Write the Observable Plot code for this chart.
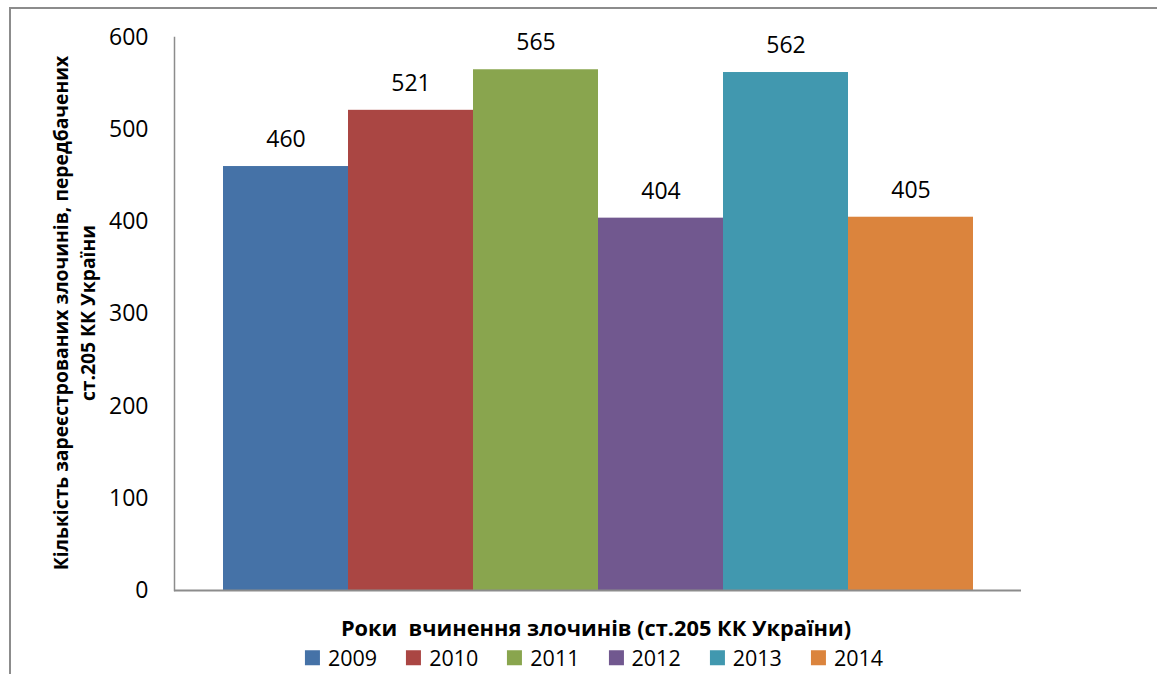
<!DOCTYPE html>
<html>
<head>
<meta charset="utf-8">
<script src="https://cdn.jsdelivr.net/npm/d3@7"></script>
<script src="https://cdn.jsdelivr.net/npm/@observablehq/plot@0.6"></script>
<style>
  html, body { margin: 0; padding: 0; background: #fff; overflow: hidden; }
  #page { position: relative; width: 1157px; height: 674px; overflow: hidden; font-family: "Open Sans", sans-serif; }
  #border { position: absolute; left: 9px; top: 7px; width: 1300px; height: 800px;
            border-left: 2px solid #8c8c8c; border-top: 2px solid #8c8c8c; }
  #chart { position: absolute; left: 0; top: 0; }
  #ylabel { position: absolute; left: 74px; top: 313px; transform: translate(-50%, -50%) rotate(-90deg);
            white-space: nowrap; text-align: center; font-weight: bold; font-size: 19.3px; line-height: 27px; color: #000; }
  #xlabel { position: absolute; left: 596px; top: 628px; transform: translate(-50%, -50%);
            white-space: nowrap; font-weight: bold; font-size: 21.8px; line-height: 1; color: #000; }
  #legend { position: absolute; left: 594px; top: 658px; transform: translate(-50%, -50%);
            display: flex; gap: 29px; white-space: nowrap; font-size: 21.5px; line-height: 1; color: #000; }
  #legend .item { display: flex; align-items: center; gap: 8px; }
  #legend .sw { width: 15px; height: 15px; display: inline-block; }
</style>
</head>
<body>
<div id="page">
  <div id="border"></div>
  <div id="chart"></div>
  <div id="ylabel">Кількість зареєстрованих злочинів, передбачених<br>ст.205 КК України</div>
  <div id="xlabel">Роки&nbsp; вчинення злочинів (ст.205 КК України)</div>
  <div id="legend"></div>
</div>
<script>
// Registered crimes under Art. 205 of the Criminal Code of Ukraine, by year
const years = ["2009", "2010", "2011", "2012", "2013", "2014"];
const counts = [460, 521, 565, 404, 562, 405];
const colors = ["#4572A7", "#AA4643", "#89A54E", "#71588F", "#4198AF", "#DB843D"];
const yTicks = [0, 100, 200, 300, 400, 500, 600];

const rows = years.map((year, i) => ({ year, count: counts[i] }));

const chart = Plot.plot({
  width: 1157,
  height: 620,
  marginTop: 37,
  marginBottom: 30,
  marginLeft: 174,
  marginRight: 136,
  style: { fontFamily: "'Open Sans', sans-serif", fontSize: "23px", color: "#000", background: "transparent" },
  x: { domain: years, paddingInner: 0, paddingOuter: 0.375, axis: null },
  y: { domain: [0, 600], ticks: yTicks, label: null },
  color: { domain: years, range: colors },
  marks: [
    Plot.barY(rows, { x: "year", y: "count", fill: "year" }),
    Plot.axisY({ ticks: yTicks, tickSize: 0, tickPadding: 26, label: null, fontSize: 23 }),
    Plot.frame({ anchor: "left", stroke: "#8c8c8c", strokeWidth: 1.5 }),
    Plot.ruleY([0], { stroke: "#8c8c8c", strokeWidth: 2 }),
    Plot.text(rows, { x: "year", y: "count", text: d => String(d.count), dy: -27, fontSize: 23, fill: "#000" })
  ]
});
document.getElementById("chart").appendChild(chart);

// Legend swatches built from the same years and colours
const legend = document.getElementById("legend");
years.forEach((year, i) => {
  const item = document.createElement("span");
  item.className = "item";
  const sw = document.createElement("span");
  sw.className = "sw";
  sw.style.background = colors[i];
  const label = document.createElement("span");
  label.textContent = year;
  item.appendChild(sw);
  item.appendChild(label);
  legend.appendChild(item);
});
</script>
</body>
</html>
